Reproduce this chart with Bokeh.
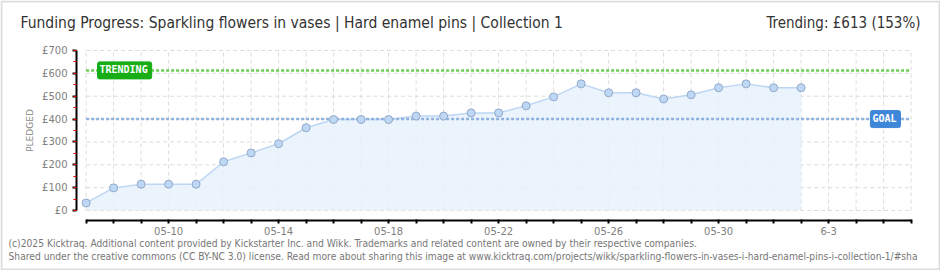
from bokeh.plotting import figure
from bokeh.models import (Range1d, FixedTicker, SingleIntervalTicker, Label,
                          BoxAnnotation, ColumnDataSource)
from bokeh.embed import file_html
from bokeh.resources import INLINE

# ---------------- data ----------------
dates = ["05-07", "05-08", "05-09", "05-10", "05-11", "05-12", "05-13", "05-14",
         "05-15", "05-16", "05-17", "05-18", "05-19", "05-20", "05-21", "05-22",
         "05-23", "05-24", "05-25", "05-26", "05-27", "05-28", "05-29", "05-30",
         "05-31", "06-01", "06-02"]
pledged = [33, 99, 115, 115, 115, 213, 252, 292, 362, 398, 398, 398, 413, 413,
           427, 427, 458, 497, 554, 515, 515, 488, 506, 537, 554, 537, 537]
goal = 400
trending = 613
title_text = "Funding Progress: Sparkling flowers in vases | Hard enamel pins | Collection 1"
trend_text = "Trending: £613 (153%)"
footer1 = ("(c)2025 Kicktraq. Additional content provided by Kickstarter Inc. and Wikk. "
           "Trademarks and related content are owned by their respective companies.")
footer2 = ("Shared under the creative commons (CC BY-NC 3.0) license. Read more about sharing "
           "this image at www.kicktraq.com/projects/wikk/sparkling-flowers-in-vases-i-hard-"
           "enamel-pins-i-collection-1/#sha")
x_tick_days = list(range(31))
x_tick_labels = {3: "05-10", 7: "05-14", 11: "05-18", 15: "05-22",
                 19: "05-26", 23: "05-30", 27: "6-3"}
y_tick_values = [0, 100, 200, 300, 400, 500, 600, 700]
y_tick_labels = ["£0", "£100", "£200", "£300", "£400", "£500", "£600", "£700"]

x = list(range(len(dates)))
src = ColumnDataSource(dict(x=x, y=pledged, zero=[0] * len(x), d=dates))

NARROW = "'Liberation Sans Narrow', 'DejaVu Sans Condensed', 'Roboto', sans-serif"
PIX = "'DejaVu Sans', sans-serif"
MONO = "'DejaVu Sans Mono', monospace"

# frame covers the whole canvas; axes are drawn at fixed locations inside it
PX_DAY = 27.5          # pixels per day
X0_PX = 85.6           # pixel of day 0
PX_UNIT = 160 / 700.0  # pixels per pound
Y0_PX = 210.0          # pixel of £0 (from top)

p = figure(width=940, height=270, output_backend="svg", toolbar_location=None,
           x_range=Range1d(-X0_PX / PX_DAY, (940 - X0_PX) / PX_DAY),
           y_range=Range1d(-(270 - Y0_PX) / PX_UNIT, Y0_PX / PX_UNIT),
           min_border=0, min_border_left=0, min_border_right=0,
           min_border_top=0, min_border_bottom=0,
           background_fill_color="white", border_fill_color="white",
           outline_line_color=None)
p.xgrid.visible = False
p.ygrid.visible = False

# dashed grid limited to the data area
p.segment(x0=x_tick_days, y0=[y_tick_values[0]] * len(x_tick_days),
          x1=x_tick_days, y1=[y_tick_values[-1]] * len(x_tick_days),
          line_color="#dcdcdc", line_dash="4 3", line_width=1)
p.segment(x0=[x_tick_days[0]] * len(y_tick_values), y0=y_tick_values,
          x1=[x_tick_days[-1]] * len(y_tick_values), y1=y_tick_values,
          line_color="#dcdcdc", line_dash="4 3", line_width=1)

# x axis
xa = p.xaxis[0]
xa.fixed_location = -(220 - Y0_PX) / PX_UNIT
xa.ticker = FixedTicker(ticks=x_tick_days, minor_ticks=[])
xa.major_label_overrides = {d: x_tick_labels.get(d, "") for d in x_tick_days}
xa.bounds = (x_tick_days[0], x_tick_days[-1])
xa.axis_line_color = "black"
xa.axis_line_width = 2
xa.major_tick_line_color = "black"
xa.major_tick_line_width = 2
xa.major_tick_in = 1
xa.major_tick_out = 3
xa.major_label_standoff = 3
xa.major_label_text_font = PIX
xa.major_label_text_font_size = "10px"
xa.major_label_text_color = "#808080"

# y axis
ya = p.yaxis[0]
ya.fixed_location = -(X0_PX - 76) / PX_DAY
ya.ticker = SingleIntervalTicker(interval=100, num_minor_ticks=2)
ya.major_label_overrides = dict(zip(y_tick_values, y_tick_labels))
ya.bounds = (y_tick_values[0], y_tick_values[-1])
ya.axis_line_color = "black"
ya.axis_line_width = 2
ya.major_tick_line_color = "black"
ya.major_tick_line_width = 2
ya.major_tick_in = 0
ya.major_tick_out = 4
ya.minor_tick_line_color = "#e00000"
ya.minor_tick_line_width = 1
ya.minor_tick_in = 0
ya.minor_tick_out = 3
ya.major_label_standoff = 5
ya.major_label_text_font = PIX
ya.major_label_text_font_size = "10px"
ya.major_label_text_color = "#808080"
ya.axis_label = "PLEDGED"
ya.axis_label_text_font = PIX
ya.axis_label_text_font_size = "9px"
ya.axis_label_text_font_style = "normal"
ya.axis_label_text_color = "#888888"
ya.axis_label_standoff = 4

# area, line
p.varea(x="x", y1="zero", y2="y", source=src, fill_color="#e8f1fc", fill_alpha=0.85)
p.line(x="x", y="y", source=src, line_color="#bcd6f3", line_width=1.5)

# goal & trending lines across the time axis
span_x = [x_tick_days[0], x_tick_days[-1]]
p.line(x=span_x, y=[goal, goal], line_color="#8fb3e0", line_width=2.5, line_dash="3 2")
p.line(x=span_x, y=[trending, trending], line_color="#6ccd55", line_width=2.5,
       line_dash="3 2")

# points
p.scatter(x="x", y="y", source=src, size=8, fill_color="#bdd7f4",
          line_color="#92a9c9", line_width=1)

# goal / trending tags
p.add_layout(Label(x=97, y=trending, x_units="screen", y_units="data", text="TRENDING",
                   text_font=MONO, text_font_size="10px",
                   text_font_style="bold", text_color="white", text_baseline="middle",
                   background_fill_color="#17ad17", border_line_color="#17ad17",
                   padding=(2, 4, 2, 4), border_radius=2))
p.add_layout(Label(x=900, y=goal, x_units="screen", y_units="data", text="GOAL",
                   text_font=MONO, text_font_size="10px",
                   text_font_style="bold", text_color="white", text_baseline="middle",
                   text_align="right",
                   background_fill_color="#3e87d8", border_line_color="#3e87d8",
                   padding=(2, 4, 2, 4), border_radius=2))

# texts (screen units: from the left edge and the bottom edge of the canvas)
p.add_layout(Label(x=20, y=270 - 22, x_units="screen", y_units="screen",
                   text=title_text, text_font=NARROW, text_font_size="15.5px",
                   text_color="#333333", text_baseline="middle"))
p.add_layout(Label(x=920, y=270 - 22, x_units="screen", y_units="screen",
                   text=trend_text, text_font=NARROW, text_font_size="15px",
                   text_color="#333333", text_baseline="middle", text_align="right"))
p.add_layout(Label(x=8, y=270 - 243, x_units="screen", y_units="screen",
                   text=footer1, text_font=NARROW, text_font_size="10.2px",
                   text_color="#777777", text_baseline="middle"))
p.add_layout(Label(x=8, y=270 - 256, x_units="screen", y_units="screen",
                   text=footer2, text_font=NARROW, text_font_size="10.2px",
                   text_color="#777777", text_baseline="middle"))

# outer frame border
p.add_layout(BoxAnnotation(left=1, right=939, top=269, bottom=1,
                           left_units="screen", right_units="screen",
                           top_units="screen", bottom_units="screen",
                           fill_alpha=0, line_color="#8a8a8a", line_width=2))

open("out.html", "w").write(file_html(p, INLINE))
